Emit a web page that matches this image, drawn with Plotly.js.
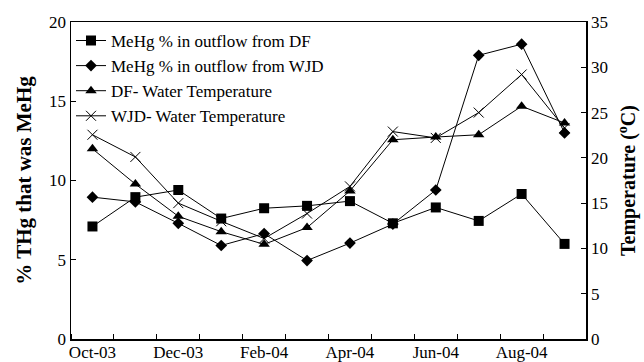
<!DOCTYPE html>
<html>
<head>
<meta charset="utf-8">
<script src="https://cdn.plot.ly/plotly-3.0.1.min.js"></script>
<style>html,body{margin:0;padding:0;background:#fff}#chart{width:644px;height:362px}</style>
</head>
<body>
<div id="chart"></div>
<script>
const months = ['Oct-03','Nov-03','Dec-03','Jan-04','Feb-04','Mar-04','Apr-04','May-04','Jun-04','Jul-04','Aug-04','Sep-04'];
const dfMeHg  = [7.1, 8.95, 9.4, 7.6, 8.25, 8.4, 8.7, 7.3, 8.3, 7.45, 9.15, 6.0];
const wjdMeHg = [8.95, 8.65, 7.3, 5.9, 6.65, 4.95, 6.05, 7.25, 9.4, 17.9, 18.6, 13.0];
const dfTemp  = [21.0, 17.1, 13.55, 11.85, 10.45, 12.3, 16.35, 22.0, 22.3, 22.55, 25.7, 23.85];
const wjdTemp = [22.55, 20.1, 15.0, 13.0, 11.1, 13.85, 16.85, 22.9, 22.2, 25.0, 29.2, 23.3];
const labelMonths = ['Oct-03','Dec-03','Feb-04','Apr-04','Jun-04','Aug-04'];

const xIdx = months.map((m, i) => i);
const font = 'Liberation Serif';
const line = {color: '#000', width: 1};

const traces = [
  {x: xIdx, y: dfMeHg, name: 'MeHg % in outflow from DF', mode: 'lines+markers', line: line,
   marker: {symbol: 'square', size: 10, color: '#000'}},
  {x: xIdx, y: wjdMeHg, name: 'MeHg % in outflow from WJD', mode: 'lines+markers', line: line,
   marker: {symbol: 'diamond', size: 9, color: '#000'}},
  {x: xIdx, y: dfTemp, name: 'DF- Water Temperature', mode: 'lines+markers', line: line, yaxis: 'y2',
   marker: {symbol: 'triangle-up', size: 10, color: '#000'}},
  {x: xIdx, y: wjdTemp, name: 'WJD- Water Temperature', mode: 'lines+markers', line: line, yaxis: 'y2',
   marker: {symbol: 'x-thin-open', size: 10, color: '#000', line: {color: '#000', width: 1}}}
];

const layout = {
  width: 644, height: 362,
  margin: {l: 71, r: 58, t: 22, b: 23},
  paper_bgcolor: '#fff', plot_bgcolor: '#fff',
  font: {family: font, size: 17, color: '#000'},
  showlegend: true,
  legend: {x: 0.0, y: 0.997, xanchor: 'left', yanchor: 'top', bgcolor: 'rgba(0,0,0,0)',
           font: {family: font, size: 17, color: '#000'}, itemwidth: 30, tracegroupgap: 0},
  xaxis: {
    range: [-0.5, 11.5], showgrid: false, zeroline: false,
    showline: true, linecolor: '#000', linewidth: 1.5, mirror: true,
    tickmode: 'array', tickvals: labelMonths.map(m => months.indexOf(m)), ticktext: labelMonths,
    ticks: '', ticklen: 0, ticklabelstandoff: -3,
    minor: {tickmode: 'linear', tick0: -0.5, dtick: 1, ticks: 'inside', ticklen: 5, tickcolor: '#000', showgrid: false},
    tickfont: {family: font, size: 17, color: '#000'}
  },
  yaxis: {
    range: [0, 20], dtick: 5, showgrid: false, zeroline: false,
    showline: true, linecolor: '#000', linewidth: 1.5,
    ticks: 'inside', ticklen: 5, tickcolor: '#000',
    tickfont: {family: font, size: 17, color: '#000'},
    title: {text: '% THg that was MeHg', font: {family: font, size: 21, color: '#000', weight: 'bold'}, standoff: 11}
  },
  yaxis2: {
    range: [0, 35], dtick: 5, overlaying: 'y', side: 'right', showgrid: false, zeroline: false,
    showline: true, linecolor: '#000', linewidth: 1.5,
    ticks: 'inside', ticklen: 5, tickcolor: '#000',
    tickfont: {family: font, size: 17, color: '#000'},
    title: {text: 'Temperature (<sup>o</sup>C)', font: {family: font, size: 20, color: '#000', weight: 'bold'}, standoff: 14}
  }
};

Plotly.newPlot('chart', traces, layout, {displayModeBar: false, staticPlot: true});
</script>
</body>
</html>
